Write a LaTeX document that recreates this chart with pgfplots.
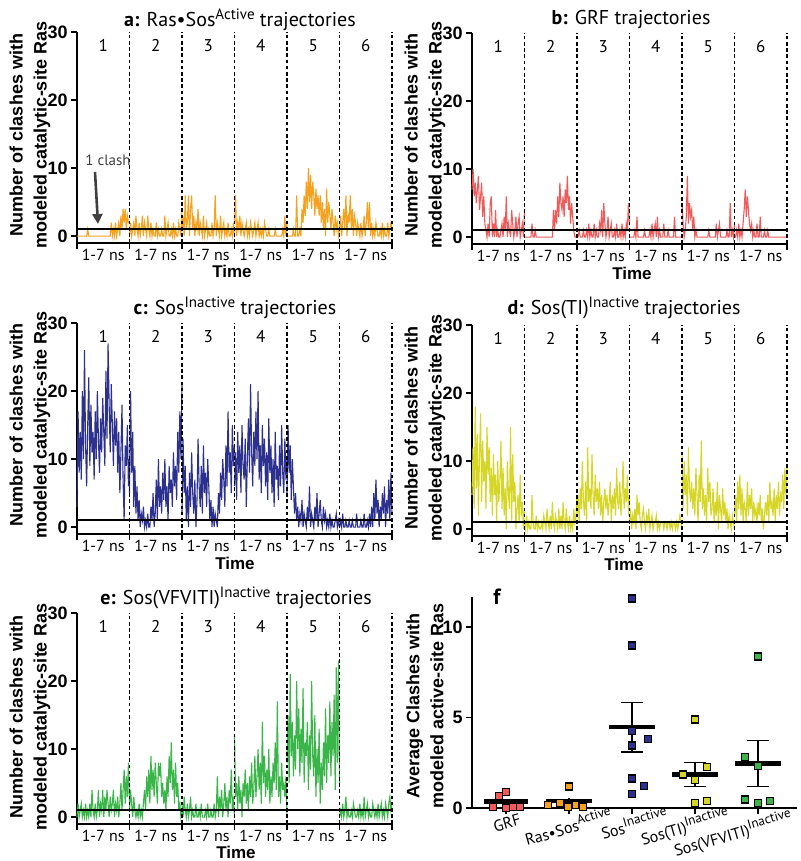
\documentclass[border=0pt]{standalone}
\usepackage{fontspec}
\setmainfont{Liberation Sans}
\newfontfamily\myr{PT Sans}
\usepackage{pgfplots}
\usepackage{pgfplotstable}
\pgfplotsset{compat=1.18}
\usetikzlibrary{arrows.meta}

\definecolor{cA}{RGB}{247,162,30}
\definecolor{cB}{RGB}{240,90,90}
\definecolor{cC}{RGB}{44,48,142}
\definecolor{cD}{RGB}{214,214,40}
\definecolor{cE}{RGB}{58,181,74}

\newcommand\sps[1]{\raisebox{0.75ex}{\fontsize{7.5}{8}\selectfont #1}}
\newcommand\spf[1]{\raisebox{0.8ex}{\fontsize{6.6}{7}\selectfont #1}}

% columns = trajectories 1..6, rows = 50 frames over 1-7 ns
\pgfplotstableread[header=false]{
0 0 1 2 0 1
0 2 3 6 0 3
0 0 0 0 0 0
0 1 6 2 0 2
0 2 1 1 0 4
0 0 2 3 0 1
0 3 6 0 1 6
0 1 0 2 0 0
0 0 4 1 0 3
0 2 6 0 6 2
1 0 1 1 0 6
0 1 3 2 0 1
0 3 0 0 1 4
0 0 2 1 0 0
0 2 1 0 4 3
0 1 4 2 2 2
0 0 0 1 6 0
0 3 2 0 3 2
0 1 1 1 8 1
0 0 0 2 4 0
0 2 3 0 10 2
0 0 0 1 5 0
0 1 1 2 9 1
0 0 2 0 4 3
0 0 0 1 8 0
0 2 1 0 6 2
0 0 0 1 3 5
0 1 0 0 7 1
0 0 2 2 4 5
0 0 0 1 6 0
0 1 1 0 3 2
0 0 6 0 6 0
2 0 0 1 2 1
0 3 2 0 5 0
1 0 1 0 1 2
0 1 0 0 4 1
2 2 3 0 0 0
0 0 0 0 7 0
1 0 1 1 2 1
2 1 2 0 5 0
0 0 0 0 3 2
3 2 1 0 1 0
1 0 0 0 4 1
4 1 2 0 2 0
2 0 0 0 0 0
4 0 0 1 3 2
1 2 1 0 1 0
3 1 0 3 2 1
2 0 2 0 0 2
2 4 0 2 1 1
}\tabA

\pgfplotstableread[header=false]{
7 0 0 0 5 0
10 0 0 0 2 0
6 0 1 0 0 1
8 0 0 0 1 0
5 0 0 0 3 2
7 0 0 1 9 0
9 0 1 0 2 1
4 2 0 3 5 0
6 0 0 0 3 2
8 0 1 0 4 4
3 1 0 0 1 7
6 0 2 0 3 3
2 0 0 0 0 6
1 0 1 0 1 4
0 0 0 1 0 2
2 0 0 0 0 1
0 0 2 0 0 2
5 0 0 0 0 0
6 0 1 0 0 1
0 0 0 1 0 0
2 0 0 0 0 0
0 0 2 2 0 2
4 0 1 0 0 0
0 0 4 1 0 0
1 0 0 2 0 3
0 0 5 0 1 0
0 0 2 3 0 0
1 4 0 0 0 0
2 1 1 1 0 1
0 4 3 0 0 0
3 2 0 0 0 0
1 6 1 0 0 1
6 3 2 2 2 0
0 8 0 0 0 0
2 5 0 0 1 0
1 4 1 0 2 0
0 6 0 1 0 0
4 3 2 0 0 0
2 7 0 0 0 0
0 5 0 0 0 0
1 9 1 0 0 0
3 4 0 0 0 0
0 6 2 3 1 0
2 2 0 0 0 0
3 5 1 0 0 0
0 3 0 0 5 0
1 1 2 0 0 0
2 0 1 0 1 0
0 0 5 0 0 0
4 0 2 0 2 0
}\tabB

\pgfplotstableread[header=false]{
3 5 2 6 5 0
17 20 13 11 15 1
8 8 5 4 8 0
14 14 9 14 12 2
7 3 1 8 4 0
20 9 6 12 10 0
10 2 0 5 6 1
26 6 8 15 2 0
12 1 3 9 5 0
6 4 11 7 1 1
15 0 5 13 3 0
22 2 2 3 0 0
9 1 7 10 2 1
18 3 0 16 1 0
11 0 4 8 4 0
14 1 13 21 0 0
7 0 6 11 2 2
17 2 3 6 1 0
10 0 9 14 0 0
20 0 2 9 3 0
13 3 12 17 1 1
8 1 5 10 6 0
16 5 8 20 0 0
11 0 3 7 2 2
19 2 10 12 1 0
14 7 6 5 0 0
9 1 1 15 3 1
23 10 4 9 1 0
13 3 0 13 5 2
27 6 3 6 0 0
18 2 0 11 2 3
11 8 2 4 4 0
21 4 1 16 1 5
15 10 0 8 0 1
9 3 5 12 3 7
17 6 2 5 1 2
12 1 8 10 2 4
16 9 4 3 0 0
8 5 10 14 1 3
14 7 7 7 0 1
5 3 3 9 2 5
11 11 12 4 0 2
18 6 6 12 1 6
7 9 17 6 0 0
1 4 8 15 0 4
12 14 11 8 1 2
9 8 5 5 2 7
15 17 15 13 0 1
6 10 9 7 1 8
10 21 12 10 0 2
}\tabC

\pgfplotstableread[header=false]{
5 1 2 1 11 2
12 0 5 3 3 5
3 2 1 0 10 1
18 0 6 2 5 7
6 1 3 1 8 3
14 0 10 3 2 8
2 0 4 0 12 2
11 5 2 5 6 6
17 1 7 2 4 1
4 0 1 4 7 4
13 0 12 1 3 3
7 2 4 0 6 1
10 0 6 2 2 7
3 1 3 3 9 2
15 0 11 1 5 5
8 0 5 0 1 3
12 1 2 2 8 6
4 0 8 1 4 1
9 2 4 3 13 4
2 1 6 0 3 2
11 0 3 1 6 3
5 3 7 2 2 1
8 1 2 0 5 4
1 0 5 1 1 2
10 2 1 1 9 5
4 0 4 2 4 1
7 4 6 0 7 3
13 1 3 1 2 0
3 0 5 0 3 2
9 2 2 1 6 4
2 1 4 1 1 2
6 0 7 1 4 5
0 3 1 0 2 1
10 0 5 1 7 7
5 2 3 1 0 3
3 0 6 0 5 4
15 4 2 1 3 2
1 1 9 1 1 6
11 0 4 0 6 1
4 3 3 1 2 5
7 1 7 0 4 3
0 0 2 1 1 7
3 2 5 1 3 2
5 0 10 0 0 5
1 1 3 1 2 4
8 0 6 0 1 8
2 3 4 1 0 3
4 1 8 2 2 9
0 2 2 1 1 5
3 5 5 0 0 9
}\tabD

\pgfplotstableread[header=false]{
0 1 2 12 8 0
2 4 0 3 15 1
0 2 3 5 5 0
1 0 1 1 21 2
2 3 0 6 9 0
0 1 2 2 14 1
1 0 0 4 6 3
0 1 1 0 12 0
2 0 3 5 7 1
0 2 0 3 20 0
1 0 1 7 10 0
0 1 0 2 16 1
2 0 0 5 6 0
0 2 2 1 13 2
4 4 0 6 8 1
1 1 0 3 19 0
0 6 1 8 5 0
2 3 0 2 11 1
0 7 2 4 9 0
1 2 0 9 14 2
4 9 0 3 4 0
0 4 0 6 12 1
2 7 1 10 7 0
1 3 0 4 20 3
4 8 2 8 9 0
0 5 0 2 6 1
3 2 0 14 15 2
1 8 1 5 3 0
4 6 0 9 10 1
2 8 0 3 5 0
0 3 2 7 13 0
3 5 0 4 2 2
1 2 1 10 8 1
2 4 6 2 4 0
4 1 0 6 11 1
0 6 3 3 6 0
2 3 1 8 16 2
1 9 4 5 5 0
3 5 0 11 12 1
0 11 2 4 8 2
2 4 5 17 17 0
5 7 1 3 6 1
1 2 3 6 14 0
4 8 0 2 9 2
7 3 4 8 18 1
2 5 2 4 4 0
6 1 7 5 22 2
3 2 1 3 8 3
8 0 3 6 23 1
2 1 0 0 5 2
}\tabE

\pgfplotsset{
  base/.style={scale only axis, anchor=south west, axis lines=left,
    axis line style={line width=1pt,-}, tick align=outside,
    major tick length=3pt, every tick/.append style={black, line width=0.9pt},
    xticklabels={}, /pgf/number format/assume math mode=true,
    yticklabel style={font=\bfseries\fontsize{9}{9}\selectfont, inner sep=1.5pt},
    clip=false},
  traj/.style={base, width=157.5pt, height=105.5pt, xmin=0, xmax=6,
    ymin=-1, ymax=30, xtick={0,1,2,3,4,5,6}, ytick={0,10,20,30}},
}

\newcommand\sixplots[2]{%
  \addplot[#1, line width=0.55pt] table[x expr=\coordindex/49, y index=0] {#2};
  \addplot[#1, line width=0.55pt] table[x expr=\coordindex/49+1, y index=1] {#2};
  \addplot[#1, line width=0.55pt] table[x expr=\coordindex/49+2, y index=2] {#2};
  \addplot[#1, line width=0.55pt] table[x expr=\coordindex/49+3, y index=3] {#2};
  \addplot[#1, line width=0.55pt] table[x expr=\coordindex/49+4, y index=4] {#2};
  \addplot[#1, line width=0.55pt] table[x expr=\coordindex/49+5, y index=5] {#2};
}

\newcommand\deco{%
  \addplot[black, line width=0.9pt] coordinates {(0,1) (6,1)};
  \pgfplotsinvokeforeach{1,2,3,4,5,6}{\draw[line width=0.8pt, dash pattern=on 1.8pt off 1.3pt] (axis cs:##1,-1) -- (axis cs:##1,30);}
  \pgfplotsinvokeforeach{0.5,1.5,2.5,3.5,4.5,5.5}{\node[font=\myr\fontsize{8}{9}\selectfont, anchor=base, inner sep=0.5pt, yshift=-8.6pt] at (axis cs:##1,-1) {1-7 ns};}
  \node[font=\myr\fontsize{8.5}{9}\selectfont] at (axis cs:0.5,28) {1};
  \node[font=\myr\fontsize{8.5}{9}\selectfont] at (axis cs:1.5,28) {2};
  \node[font=\myr\fontsize{8.5}{9}\selectfont] at (axis cs:2.5,28) {3};
  \node[font=\myr\fontsize{8.5}{9}\selectfont] at (axis cs:3.5,28) {4};
  \node[font=\myr\fontsize{8.5}{9}\selectfont] at (axis cs:4.5,28) {5};
  \node[font=\myr\fontsize{8.5}{9}\selectfont] at (axis cs:5.5,28) {6};
}

\begin{document}
\begin{tikzpicture}
\path[use as bounding box] (0,0) rectangle (400pt,430.5pt);

\begin{axis}[traj, at={(38.5pt,309pt)}]
\sixplots{cA}{\tabA}
\deco
\end{axis}

\begin{axis}[traj, at={(236pt,308.5pt)}]
\sixplots{cB}{\tabB}
\deco
\end{axis}

\begin{axis}[traj, at={(38.5pt,163.5pt)}]
\sixplots{cC}{\tabC}
\deco
\end{axis}

\begin{axis}[traj, at={(236pt,162.5pt)}]
\sixplots{cD}{\tabD}
\deco
\end{axis}

\begin{axis}[traj, at={(38.5pt,18.5pt)}]
\sixplots{cE}{\tabE}
\deco
\end{axis}

\begin{axis}[base, at={(236pt,26.5pt)}, width=162.5pt, height=105.5pt,
  xmin=0.46, xmax=5.62, ymin=0, ymax=11.66, xtick={1,2,3,4,5}, ytick={0,5,10}]
\addplot[only marks, mark=square*, mark size=1.75pt, mark options={fill=cB, draw=black, line width=0.7pt}]
  coordinates {(1.0,0.88) (0.89,0.66) (0.79,0.07) (1.0,0.0) (1.11,0.07) (1.22,0.07)};
\addplot[only marks, mark=square*, mark size=1.75pt, mark options={fill=cA, draw=black, line width=0.7pt}]
  coordinates {(2.0,1.18) (1.67,0.17) (1.86,0.27) (1.98,0.07) (2.10,0.17) (2.22,0.07)};
\addplot[only marks, mark=square*, mark size=1.75pt, mark options={fill=cC, draw=black, line width=0.7pt}]
  coordinates {(3,11.57) (3,8.99) (3,4.27) (3,3.46) (3.25,3.81) (3,1.62) (3.19,1.2) (3,0.79)};
\addplot[only marks, mark=square*, mark size=1.75pt, mark options={fill=cD, draw=black, line width=0.7pt}]
  coordinates {(4,4.9) (4.19,2.28) (3.81,1.86) (4,1.55) (4,0.29) (4.19,0.39)};
\addplot[only marks, mark=square*, mark size=1.75pt, mark options={fill=cE, draw=black, line width=0.7pt}]
  coordinates {(5,8.38) (4.79,2.83) (5,2.32) (4.79,0.48) (5,0.29) (5.19,0.39)};
% means
\addplot[black, line width=2.2pt] coordinates {(0.65,0.35) (1.35,0.35)};
\addplot[black, line width=2.2pt] coordinates {(1.64,0.38) (2.36,0.38)};
\addplot[black, line width=2.2pt] coordinates {(2.64,4.47) (3.36,4.47)};
\addplot[black, line width=2.2pt] coordinates {(3.64,1.86) (4.36,1.86)};
\addplot[black, line width=2.2pt] coordinates {(4.64,2.47) (5.36,2.47)};
% SEM
\addplot[black, line width=0.6pt] coordinates {(1,0.2) (1,0.5)};
\addplot[black, line width=0.6pt] coordinates {(2,0.2) (2,0.56)};
\addplot[black, line width=0.6pt] coordinates {(3,3.09) (3,5.84)};
\addplot[black, line width=0.6pt] coordinates {(2.83,3.09) (3.17,3.09)};
\addplot[black, line width=0.6pt] coordinates {(2.83,5.84) (3.17,5.84)};
\addplot[black, line width=0.6pt] coordinates {(4,1.18) (4,2.52)};
\addplot[black, line width=0.6pt] coordinates {(3.83,1.18) (4.17,1.18)};
\addplot[black, line width=0.6pt] coordinates {(3.83,2.52) (4.17,2.52)};
\addplot[black, line width=0.6pt] coordinates {(5,1.2) (5,3.72)};
\addplot[black, line width=0.6pt] coordinates {(4.83,1.2) (5.17,1.2)};
\addplot[black, line width=0.6pt] coordinates {(4.83,3.72) (5.17,3.72)};
\end{axis}

\begin{scope}[x=0.5pt, y=-0.5pt, yshift=430.5pt]
% titles
\node[font=\myr\fontsize{10}{12}\selectfont] at (240,20) {\textbf{a:} Ras\textbullet Sos\sps{Active} trajectories};
\node[font=\myr\fontsize{10}{12}\selectfont] at (631,20) {\textbf{b:} GRF trajectories};
\node[font=\myr\fontsize{10}{12}\selectfont] at (235,308) {\textbf{c:} Sos\sps{Inactive} trajectories};
\node[font=\myr\fontsize{10}{12}\selectfont] at (624,308) {\textbf{d:} Sos(TI)\sps{Inactive} trajectories};
\node[font=\myr\fontsize{10}{12}\selectfont] at (236,598) {\textbf{e:} Sos(VFVITI)\sps{Inactive} trajectories};
\node[font=\myr\bfseries\fontsize{11}{12}\selectfont] at (497,597) {f};
% y labels
\node[rotate=90, align=center, font=\bfseries\fontsize{9}{12}\selectfont] at (30,135) {Number of clashes with\\modeled catalytic-site Ras};
\node[rotate=90, align=center, font=\bfseries\fontsize{9}{12}\selectfont] at (425,135) {Number of clashes with\\modeled catalytic-site Ras};
\node[rotate=90, align=center, font=\bfseries\fontsize{9}{12}\selectfont] at (30,425) {Number of clashes with\\modeled catalytic-site Ras};
\node[rotate=90, align=center, font=\bfseries\fontsize{9}{12}\selectfont] at (425,428) {Number of clashes with\\modeled catalytic-site Ras};
\node[rotate=90, align=center, font=\bfseries\fontsize{9}{12}\selectfont] at (30,717) {Number of clashes with\\modeled catalytic-site Ras};
\node[rotate=90, align=center, font=\bfseries\fontsize{9}{12}\selectfont] at (425,706) {Average Clashes with\\modeled active-site Ras};
% x labels
\node[inner sep=0.5pt, font=\bfseries\fontsize{8.5}{10}\selectfont] at (232,271) {Time};
\node[inner sep=0.5pt, font=\bfseries\fontsize{8.5}{10}\selectfont] at (632,273) {Time};
\node[inner sep=0.5pt, font=\bfseries\fontsize{8.5}{10}\selectfont] at (235,563) {Time};
\node[inner sep=0.5pt, font=\bfseries\fontsize{8.5}{10}\selectfont] at (624,564) {Time};
\node[inner sep=0.5pt, font=\bfseries\fontsize{8.5}{10}\selectfont] at (236,852) {Time};
% f category labels
\node[rotate=16, inner sep=0pt, font=\myr\fontsize{8}{9}\selectfont] at (507,823) {GRF};
\node[rotate=16, inner sep=0pt, font=\myr\fontsize{8}{9}\selectfont] at (568,826) {Ras\textbullet Sos\spf{Active}};
\node[rotate=16, inner sep=0pt, font=\myr\fontsize{8}{9}\selectfont] at (634,823) {Sos\spf{Inactive}};
\node[rotate=16, inner sep=0pt, font=\myr\fontsize{8}{9}\selectfont] at (685,827) {Sos(TI)\spf{Inactive}};
\node[rotate=16, inner sep=0pt, font=\myr\fontsize{8}{9}\selectfont] at (733,834) {Sos(VFVITI)\spf{Inactive}};
% annotation
\node[font=\myr\fontsize{7.5}{9}\selectfont, text=black!75] at (108,160) {1 clash};
\draw[black!75, line width=1.3pt, -{Triangle[length=5pt,width=5pt]}] (95,172) -- (98,224);
\end{scope}
\end{tikzpicture}
\end{document}
